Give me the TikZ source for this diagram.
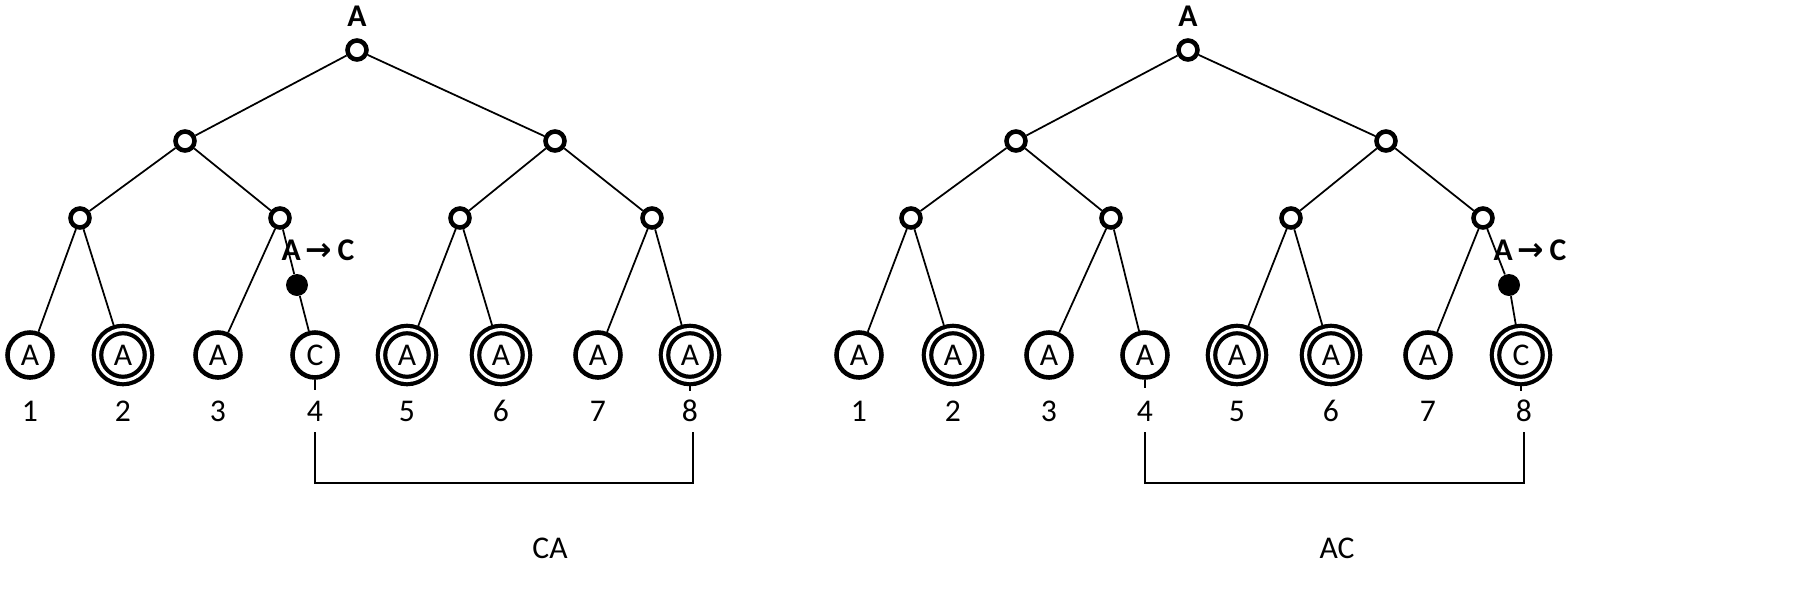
\documentclass[tikz,border=0pt]{standalone}
\usepackage{fontspec}
\setmainfont{Carlito}
\newfontfamily\djv{DejaVu Sans}
\begin{document}
\begin{tikzpicture}[x=0.02cm,y=-0.02cm,
  sm/.style={circle,draw,line width=2.6pt,fill=white,minimum size=0.38cm,inner sep=0pt},
  lf/.style={circle,draw,line width=2.6pt,fill=white,minimum size=0.9cm,inner sep=0pt,font=\fontsize{18}{18}\selectfont},
  dlf/.style={circle,draw,line width=2.4pt,fill=white,minimum size=1.02cm,inner sep=0pt,font=\fontsize{18}{18}\selectfont,
     double distance=1.8pt, double=white},
  dot/.style={circle,fill=black,minimum size=0.44cm,inner sep=0pt},
  num/.style={font=\fontsize{18}{18}\selectfont},
  lab/.style={font=\bfseries\fontsize{18}{18}\selectfont},
  ed/.style={line width=1pt}]
\useasboundingbox (0,0) rectangle (1800,603);
% ---------- left tree ----------
\node[lab] (lA) at (357,16) {A};
\node[sm] (lr) at (357,50) {};
\node[sm] (l1) at (185,141) {};
\node[sm] (l2) at (555,141) {};
\node[sm] (l11) at (80,218) {};
\node[sm] (l12) at (280,218) {};
\node[sm] (l21) at (460,218) {};
\node[sm] (l22) at (652,218) {};
\node[lf] (la1) at (30,355) {A};
\node[dlf] (la2) at (123,355) {A};
\node[lf] (la3) at (218,355) {A};
\node[lf] (la4) at (315,355) {C};
\node[dlf] (la5) at (407,355) {A};
\node[dlf] (la6) at (501,355) {A};
\node[lf] (la7) at (598,355) {A};
\node[dlf] (la8) at (690,355) {A};
\node[dot] (ld) at (297,285) {};
\node[lab] (lac) at (318,250) {A\,{\djv\bfseries →}\,C};
\draw[ed] (lr)--(l1) (lr)--(l2) (l1)--(l11) (l1)--(l12) (l2)--(l21) (l2)--(l22)
  (l11)--(la1) (l11)--(la2) (l12)--(la3) (l12)--(ld)--(la4) (l21)--(la5) (l21)--(la6) (l22)--(la7) (l22)--(la8);
\foreach \i/\x in {1/30,2/123,3/218,4/315,5/407,6/501,7/598,8/690}
  \node[num] (ln\i) at (\x,411) {\i};
\coordinate (lb1) at (315,483); \coordinate (lb2) at (693,483);
\draw[ed] (la4.south)--++(0,10);
\draw[ed] (la8.south)--++(0,8);
\draw[ed] (315,432)--(lb1)--(lb2)--(693,432);
\node[num] (lCA) at (550,548) {CA};
% ---------- right tree ----------
\node[lab] (rA) at (1188,16) {A};
\node[sm] (rr) at (1188,50) {};
\node[sm] (r1) at (1016,141) {};
\node[sm] (r2) at (1386,141) {};
\node[sm] (r11) at (911,218) {};
\node[sm] (r12) at (1111,218) {};
\node[sm] (r21) at (1291,218) {};
\node[sm] (r22) at (1483,218) {};
\node[lf] (ra1) at (859,355) {A};
\node[dlf] (ra2) at (953,355) {A};
\node[lf] (ra3) at (1049,355) {A};
\node[lf] (ra4) at (1145,355) {A};
\node[dlf] (ra5) at (1237,355) {A};
\node[dlf] (ra6) at (1331,355) {A};
\node[lf] (ra7) at (1428,355) {A};
\node[dlf] (ra8) at (1521,355) {C};
\node[dot] (rd) at (1509,285) {};
\node[lab] (rac) at (1530,250) {A\,{\djv\bfseries →}\,C};
\draw[ed] (rr)--(r1) (rr)--(r2) (r1)--(r11) (r1)--(r12) (r2)--(r21) (r2)--(r22)
  (r11)--(ra1) (r11)--(ra2) (r12)--(ra3) (r12)--(ra4) (r21)--(ra5) (r21)--(ra6) (r22)--(ra7) (r22)--(rd)--(ra8);
\foreach \i/\x in {1/859,2/953,3/1049,4/1145,5/1237,6/1331,7/1428,8/1524}
  \node[num] (rn\i) at (\x,411) {\i};
\draw[ed] (ra4.south)--++(0,8);
\draw[ed] (ra8.south)--++(0,8);
\coordinate (rb1) at (1145,483); \coordinate (rb2) at (1524,483);
\draw[ed] (1145,432)--(rb1)--(rb2)--(1524,432);
\node[num] (rAC) at (1337,548) {AC};
\end{tikzpicture}
\end{document}
